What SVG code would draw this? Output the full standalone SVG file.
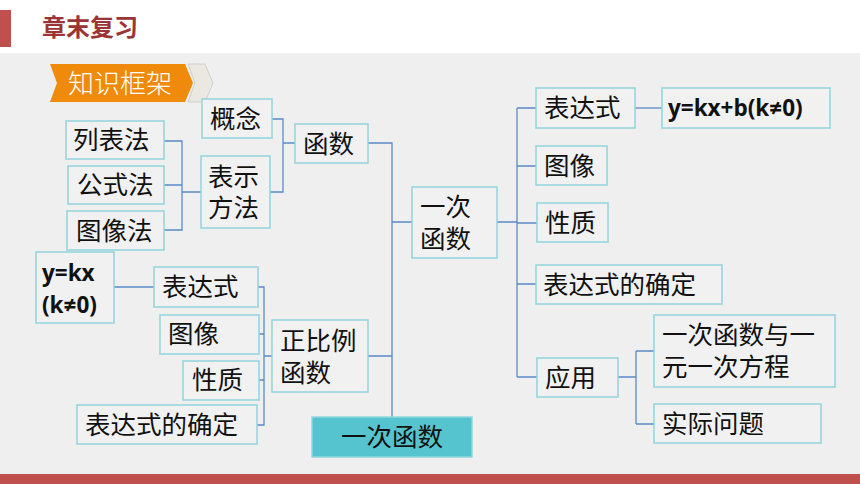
<svg xmlns="http://www.w3.org/2000/svg" width="860" height="484" viewBox="0 0 860 484">
<style>
.n rect{fill:#f1f1f1;stroke:#92d3dc;stroke-width:1.5}
.t{font-family:"Noto Sans CJK SC","Noto Sans",sans-serif;font-size:25.5px;fill:#111}
.m{font-family:"Open Sans","Liberation Sans",sans-serif;font-size:22.5px;font-weight:bold;fill:#111}
.c path{fill:none;stroke:#5b8bc8;stroke-width:1.3}
</style>
<rect x="0" y="0" width="860" height="484" fill="#ffffff"/>
<rect x="0" y="53" width="860" height="421" fill="#efefef"/>
<rect x="0" y="474" width="860" height="10" fill="#c0504d"/>
<rect x="0" y="10" width="11" height="37" fill="#c0504d"/>
<text x="42" y="36" font-family="'Noto Sans CJK SC',sans-serif" font-size="24" font-weight="bold" fill="#9b3535">章末复习</text>
<g id="banner">
<polygon points="188,64 205,64 213,83 205,102 188,102 195,83" fill="#ebe7e1" stroke="#cfcfcf" stroke-width="1"/>
<polygon points="50,64 185,64 193,83 185,102 50,102 57,83" fill="#ef8a0a"/>
<text x="68" y="93" font-family="'Noto Sans CJK SC',sans-serif" font-size="26" font-weight="300" fill="#ffffff">知识框架</text>
</g>
<g class="c" id="connectors">
<path d="M164,141H182V230H164M164,185H182M182,192H201"/>
<path d="M272,119H283V192H270M283,143H295"/>
<path d="M368,143H392V417M392,222H412M368,356H392"/>
<path d="M114,287H154"/>
<path d="M258,287H264V425H257M259,334H264M259,380H264M264,356H272"/>
<path d="M497,222H517M517,108V377M517,108H536M517,166H536M517,223H537M517,284H536M517,377H537"/>
<path d="M635,108H662"/>
<path d="M618,377H636M636,351V424M636,351H654M636,424H654"/>
</g>
<g class="n" id="gainian"><rect x="202" y="99" width="70" height="39"/><text class="t" x="210" y="128">概念</text></g>
<g class="n" id="liebiaofa"><rect x="66" y="121" width="98" height="38"/><text class="t" x="73" y="149">列表法</text></g>
<g class="n" id="gongshifa"><rect x="68" y="166" width="96" height="38"/><text class="t" x="77" y="194">公式法</text></g>
<g class="n" id="tuxiangfa"><rect x="67" y="211" width="97" height="39"/><text class="t" x="76" y="240">图像法</text></g>
<g class="n" id="biaoshifangfa"><rect x="201" y="156" width="69" height="72"/><text class="t"><tspan x="208" y="186">表示</tspan><tspan x="208" y="217">方法</tspan></text></g>
<g class="n" id="hanshu"><rect x="295" y="124" width="73" height="39"/><text class="t" x="303" y="153">函数</text></g>
<g class="n" id="ykx"><rect x="36" y="252" width="78" height="71"/><text class="m"><tspan x="42" y="281">y=kx</tspan><tspan x="42" y="313">(k≠0)</tspan></text></g>
<g class="n" id="zb-biaodashi"><rect x="154" y="267" width="104" height="40"/><text class="t" x="162" y="296">表达式</text></g>
<g class="n" id="zb-tuxiang"><rect x="160" y="315" width="99" height="39"/><text class="t" x="168" y="343">图像</text></g>
<g class="n" id="zb-xingzhi"><rect x="183" y="361" width="76" height="39"/><text class="t" x="192" y="389">性质</text></g>
<g class="n" id="zb-queding"><rect x="77" y="405" width="180" height="39"/><text class="t" x="85" y="434">表达式的确定</text></g>
<g class="n" id="zhengbili"><rect x="272" y="320" width="96" height="72"/><text class="t"><tspan x="280" y="350">正比例</tspan><tspan x="280" y="382">函数</tspan></text></g>
<g id="root"><rect x="312" y="417" width="160" height="40" fill="#56c4ce" stroke="#8fd6de" stroke-width="1.5"/><text class="t" x="392" y="446" text-anchor="middle">一次函数</text></g>
<g class="n" id="yicihanshu"><rect x="412" y="187" width="85" height="71"/><text class="t"><tspan x="420" y="216">一次</tspan><tspan x="420" y="248">函数</tspan></text></g>
<g class="n" id="yc-biaodashi"><rect x="536" y="88" width="99" height="40"/><text class="t" x="544" y="117">表达式</text></g>
<g class="n" id="ykxb"><rect x="662" y="88" width="168" height="40"/><text class="m" x="668" y="116">y=kx+b(k≠0)</text></g>
<g class="n" id="yc-tuxiang"><rect x="536" y="146" width="71" height="39"/><text class="t" x="544" y="175">图像</text></g>
<g class="n" id="yc-xingzhi"><rect x="537" y="203" width="71" height="39"/><text class="t" x="545" y="232">性质</text></g>
<g class="n" id="yc-queding"><rect x="536" y="265" width="186" height="39"/><text class="t" x="543" y="294">表达式的确定</text></g>
<g class="n" id="yingyong"><rect x="537" y="358" width="81" height="39"/><text class="t" x="545" y="387">应用</text></g>
<g class="n" id="fangcheng"><rect x="654" y="315" width="181" height="72"/><text class="t"><tspan x="662" y="344">一次函数与一</tspan><tspan x="662" y="376">元一次方程</tspan></text></g>
<g class="n" id="shiji"><rect x="654" y="404" width="167" height="39"/><text class="t" x="662" y="433">实际问题</text></g>
</svg>
